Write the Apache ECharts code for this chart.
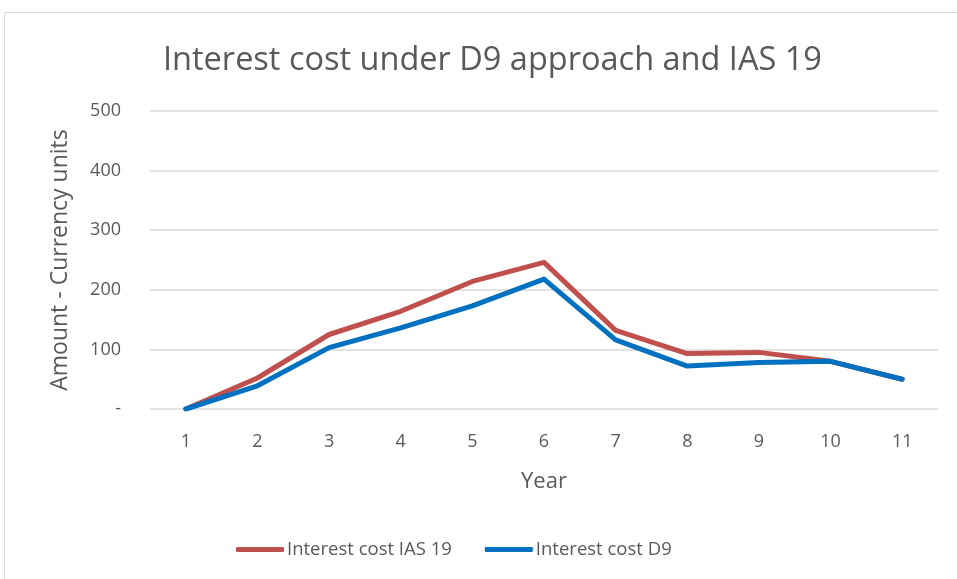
<!DOCTYPE html>
<html><head><meta charset="utf-8">
<script src="https://cdn.jsdelivr.net/npm/echarts@6/dist/echarts.min.js"></script>
<style>html,body{margin:0;padding:0;background:#fff}#c{width:957px;height:579px}</style>
</head><body><div id="c"></div>
<script>
const years = ['1','2','3','4','5','6','7','8','9','10','11'];
const ias19 = [0, 52, 125, 164, 214, 246, 132, 93, 95, 80, 50];
const d9 = [0, 39, 103, 136, 173, 218, 116, 72, 78, 80, 50];
const titleText = 'Interest cost under D9 approach and IAS 19';
const ff = '"Open Sans", "Noto Sans", sans-serif';
const chart = echarts.init(document.getElementById('c'));
chart.setOption({
  animation: false,
  backgroundColor: '#fff',
  graphic: [{type:'rect', shape:{x:4.5,y:12.5,width:960,height:600}, style:{fill:'none', stroke:'#d9d9d9', lineWidth:1}}],
  title: {text: titleText, left: 158, top: 39, textStyle:{fontFamily: ff, fontWeight:'normal', fontSize: 32.5, color:'#595959'}},
  legend: {bottom: 15, left: 231, itemWidth: 48, itemHeight: 5, itemGap: 33,
    textStyle:{fontFamily: ff, fontSize: 18.5, color:'#595959', padding:[0,0,0,-2]},
    data:[{name:'Interest cost IAS 19', icon:'roundRect'},{name:'Interest cost D9', icon:'roundRect'}]},
  grid: {left: 150, right: 19, top: 111, bottom: 170},
  xAxis: {type:'category', data: years, boundaryGap: true,
    name: 'Year', nameLocation: 'middle', nameGap: 62,
    nameTextStyle:{fontFamily: ff, fontSize: 22, color:'#595959'},
    axisLine:{show:false}, axisTick:{show:false},
    axisLabel:{fontFamily: ff, fontSize: 18, color:'#595959', margin: 24}},
  yAxis: {type:'value', min: 0, max: 500, interval: 100,
    name: 'Amount - Currency units', nameLocation: 'middle', nameGap: 78, nameRotate: 90,
    nameTextStyle:{fontFamily: ff, fontSize: 23, color:'#595959'},
    axisLine:{show:false}, axisTick:{show:false},
    splitLine:{lineStyle:{color:'#d9d9d9', width:1.5}},
    axisLabel:{fontFamily: ff, fontSize: 18, color:'#595959', margin: 29,
      formatter: v => v === 0 ? '-' : String(v)}},
  series: [
    {name:'Interest cost IAS 19', type:'line', data: ias19, symbol:'none',
      lineStyle:{color:'#C0504D', width:5, cap:'round', join:'round'}, itemStyle:{color:'#C0504D'}},
    {name:'Interest cost D9', type:'line', data: d9, symbol:'none',
      lineStyle:{color:'#0070C0', width:5, cap:'round', join:'round'}, itemStyle:{color:'#0070C0'}}
  ]
});
</script></body></html>
